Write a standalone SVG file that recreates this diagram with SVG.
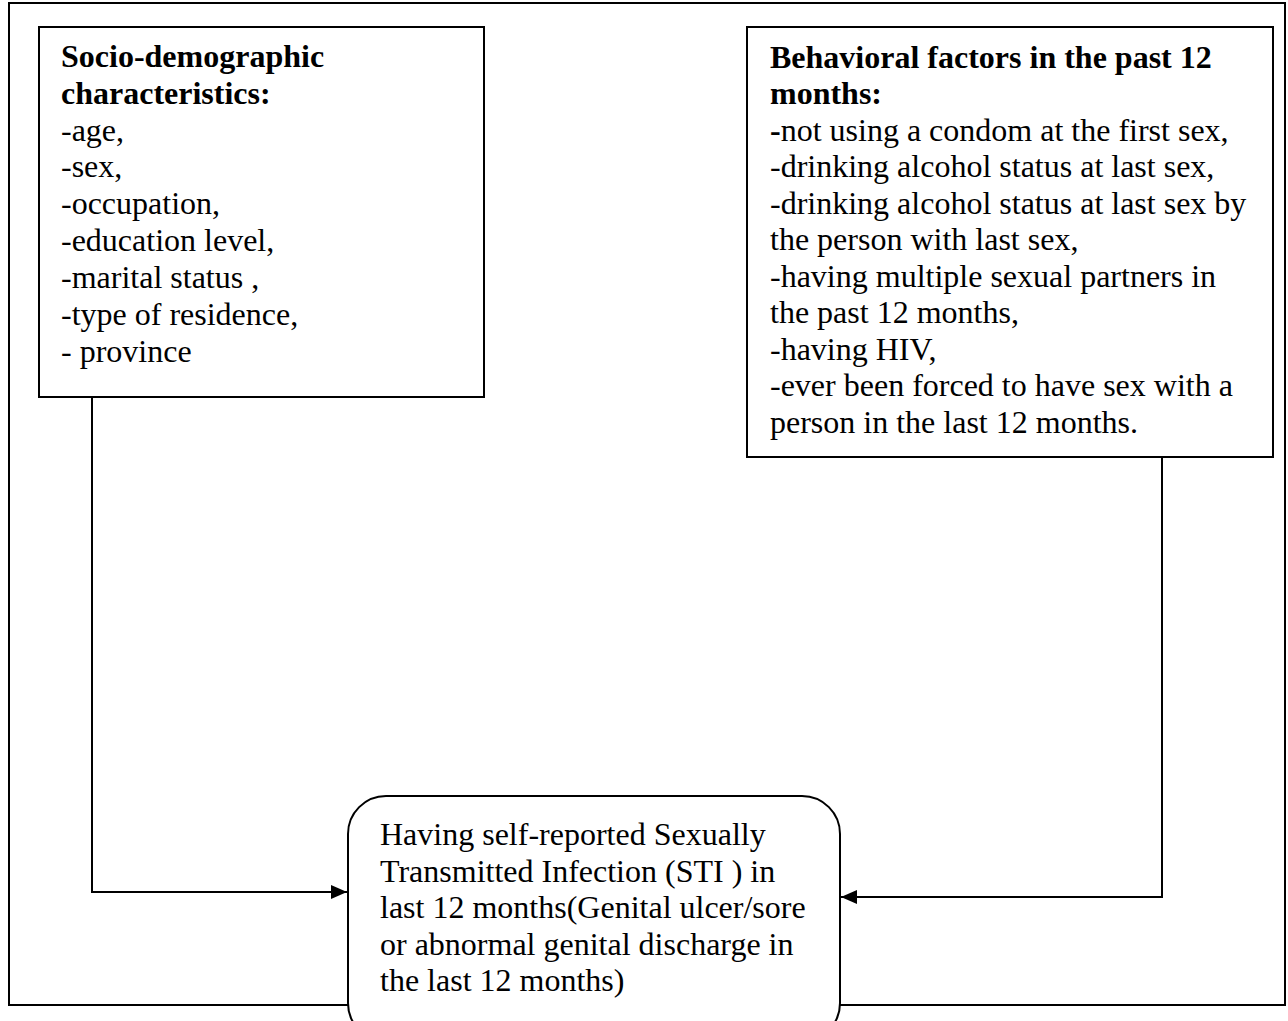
<svg xmlns="http://www.w3.org/2000/svg" width="1288" height="1021" viewBox="0 0 1288 1021">
  <defs>
    <style>
      .box { fill: #ffffff; stroke: #000000; stroke-width: 2; }
      .frame { fill: none; stroke: #000000; stroke-width: 2; }
      .conn { fill: none; stroke: #000000; stroke-width: 2; }
      text { font-family: "Liberation Serif", "Times New Roman", serif; font-size: 32px; fill: #000000; }
      .b { font-weight: bold; }
    </style>
    <marker id="arrow" viewBox="0 0 16 14" refX="16" refY="7" markerWidth="16" markerHeight="14" markerUnits="userSpaceOnUse" orient="auto">
      <path d="M0,0 L16,7 L0,14 Z" fill="#000000"/>
    </marker>
  </defs>
  <rect width="1288" height="1021" fill="#ffffff"/>
  <rect id="frame" class="frame" x="9" y="3" width="1276" height="1002"/>

  <g id="connectors">
    <path class="conn" d="M92,397 L92,892 L347,892" marker-end="url(#arrow)"/>
    <path class="conn" d="M1162,457 L1162,897 L841,897" marker-end="url(#arrow)"/>
  </g>

  <g id="socio">
    <rect class="box" x="39" y="27" width="445" height="370"/>
    <text x="61" y="67" class="b">Socio-demographic</text>
    <text x="61" y="104" class="b">characteristics:</text>
    <text x="61" y="141">-age,</text>
    <text x="61" y="177">-sex,</text>
    <text x="61" y="214">-occupation,</text>
    <text x="61" y="251">-education level,</text>
    <text x="61" y="288">-marital status ,</text>
    <text x="61" y="325">-type of residence,</text>
    <text x="61" y="362">- province</text>
  </g>

  <g id="behavioral">
    <rect class="box" x="747" y="27" width="526" height="430"/>
    <text x="770" y="68" class="b">Behavioral factors in the past 12</text>
    <text x="770" y="104" class="b">months:</text>
    <text x="770" y="141"><tspan class="b">-</tspan>not using a condom at the first sex,</text>
    <text x="770" y="177">-drinking alcohol status at last sex,</text>
    <text x="770" y="214">-drinking alcohol status at last sex by</text>
    <text x="770" y="250">the person with last sex,</text>
    <text x="770" y="287">-having multiple sexual partners in</text>
    <text x="770" y="323">the past 12 months,</text>
    <text x="770" y="360">-having HIV,</text>
    <text x="770" y="396">-ever been forced to have sex with a</text>
    <text x="770" y="433">person in the last 12 months.</text>
  </g>

  <g id="outcome">
    <rect class="box" x="348" y="796" width="492" height="245" rx="38" ry="38"/>
    <text x="380" y="845">Having self-reported Sexually</text>
    <text x="380" y="882">Transmitted Infection (STI ) in</text>
    <text x="380" y="918">last 12 months(Genital ulcer/sore</text>
    <text x="380" y="955">or abnormal genital discharge in</text>
    <text x="380" y="991">the last 12 months)</text>
  </g>
</svg>
